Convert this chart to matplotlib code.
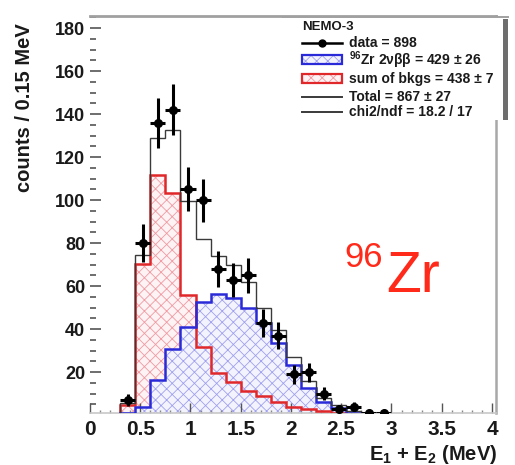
import numpy as np
import matplotlib
matplotlib.use("Agg")
import matplotlib.pyplot as plt
from matplotlib.patches import Rectangle
from matplotlib.ticker import MultipleLocator

plt.rcParams["font.family"] = ["Liberation Sans", "DejaVu Sans"]
plt.rcParams["font.weight"] = "bold"
plt.rcParams["mathtext.fontset"] = "custom"
plt.rcParams["mathtext.rm"] = "Liberation Sans:bold"
plt.rcParams["mathtext.bf"] = "Liberation Sans:bold"
plt.rcParams["mathtext.it"] = "Liberation Sans:bold:italic"
plt.rcParams["hatch.linewidth"] = 0.6

# ---- histogram data: 0.15 MeV bins of E1 + E2 ----
bin_edges = [0.30, 0.45, 0.60, 0.75, 0.90, 1.05, 1.20, 1.35, 1.50, 1.65,
             1.80, 1.95, 2.10, 2.25, 2.40, 2.55, 2.70, 2.85]
bkg_counts = [4.5, 70.5, 111.8, 103.3, 56.0, 31.9, 19.5, 15.6, 11.0, 8.7,
              6.3, 4.0, 3.0, 2.0, 1.2, 0.5, 0.2]
bb2nu_counts = [1.0, 4.0, 16.4, 30.8, 41.0, 52.8, 56.4, 54.6, 50.0, 43.0,
                33.6, 23.4, 12.5, 6.3, 3.4, 1.2, 0.4]
total_counts = [5.5, 74.5, 128.8, 132.6, 99.5, 82.0, 74.0, 70.0, 62.0, 50.0,
                39.5, 27.0, 16.0, 8.0, 4.5, 1.7, 0.6]

data_energy = [0.375, 0.525, 0.675, 0.825, 0.975, 1.125, 1.275, 1.425, 1.575,
               1.725, 1.875, 2.025, 2.175, 2.325, 2.475, 2.625, 2.775, 2.925]
data_counts = [7, 80, 136, 142, 105, 100, 68, 63, 65, 43, 37, 19, 20, 10,
               3, 4, 1, 1]

x_ticks = [0, 0.5, 1, 1.5, 2, 2.5, 3, 3.5, 4]
x_tick_labels = ["0", "0.5", "1", "1.5", "2", "2.5", "3", "3.5", "4"]
y_ticks = [20, 40, 60, 80, 100, 120, 140, 160, 180]

legend_title = "NEMO-3"
legend_labels = ["data = 898",
                 "$^{96}$Zr 2\u03bd\u03b2\u03b2 = 429 \u00b1 26",
                 "sum of bkgs = 438 \u00b1 7",
                 "Total = 867 \u00b1 27",
                 "chi2/ndf = 18.2 / 17"]

RED = "#e0282a"
BLUE = "#2a2ad8"
RED_FACE, RED_HATCH = "#fdf2f4", "#f09aa2"
BLUE_FACE, BLUE_HATCH = "#f3f3fd", "#a0a0f0"
TOTAL_COLOR = "#3a3a3a"

W, H = 515, 465
fig = plt.figure(figsize=(W / 100, H / 100), dpi=100)
ax = fig.add_axes([90 / W, 52 / H, 406 / W, 397 / H])

# hatched component fills (background first, then signal on top)
ax.stairs(bkg_counts, bin_edges, fill=True, facecolor=RED_FACE,
          edgecolor=RED_HATCH, hatch="xxx", linewidth=0, zorder=1)
ax.stairs(bb2nu_counts, bin_edges, fill=True, facecolor=BLUE_FACE,
          edgecolor=BLUE_HATCH, hatch="xxx", linewidth=0, zorder=1.1)

# outlines
ax.stairs(bkg_counts, bin_edges, color=RED, linewidth=1.8, zorder=3)
ax.stairs(bb2nu_counts, bin_edges, color=BLUE, linewidth=1.8, zorder=3.1)
ax.stairs(total_counts, bin_edges, color=TOTAL_COLOR, linewidth=1.0, zorder=3.2)

# data points with Poisson errors
ax.errorbar(data_energy, data_counts, yerr=np.sqrt(data_counts), xerr=0.075,
            fmt="o", color="black", markersize=5.5, elinewidth=2.2,
            capsize=0, zorder=5)

ax.set_xlim(0, 4.04)
ax.set_ylim(1, 185.6)
ax.set_xticks(x_ticks)
ax.set_xticklabels(x_tick_labels)
ax.set_yticks(y_ticks)
ax.xaxis.set_minor_locator(MultipleLocator(0.1))
ax.yaxis.set_minor_locator(MultipleLocator(5))

ax.tick_params(which="both", direction="in", top=False, right=False,
               color="#555555", labelcolor="#1a1a1a")
ax.tick_params(axis="x", which="major", length=7, width=1.0, pad=5,
               labelsize=15)
ax.tick_params(axis="x", which="minor", length=2.5, width=1.0,
               color="#888888")
ax.tick_params(axis="y", which="major", length=8, width=1.2, pad=3.5,
               labelsize=13)
ax.tick_params(axis="y", which="minor", length=4, width=1.2)

ax.spines["left"].set_visible(False)
ax.spines["top"].set_color("#a0a0a0")
ax.spines["top"].set_linewidth(2.0)
ax.spines["right"].set_color("#a8a8a8")
ax.spines["right"].set_linewidth(1.8)
ax.spines["bottom"].set_color("#c8c8c8")
ax.spines["bottom"].set_linewidth(1.2)

ax.set_ylabel("counts / 0.15 MeV", loc="top", fontsize=14.5,
              fontweight="bold", color="#1a1a1a")
ax.yaxis.set_label_coords((34 - 90) / 406, (413 - 23) / 397)
ax.set_xlabel("E$_{1}$ + E$_{2}$ (MeV)", loc="right", fontsize=14.5,
              fontweight="bold", color="#1a1a1a")
ax.xaxis.set_label_coords((497 - 90) / 406, (413 - 443) / 397)

# ---- overlay in pixel units for legend box and isotope label ----
ov = fig.add_axes([0, 0, 1, 1], zorder=10)
ov.set_xlim(0, W)
ov.set_ylim(H, 0)
ov.axis("off")
ov.patch.set_alpha(0)

ov.add_patch(Rectangle((283, 17), 220, 103, facecolor="white",
                       edgecolor="none", zorder=1))
ov.add_patch(Rectangle((503, 19), 5, 101, facecolor="#6e6e6e",
                       edgecolor="none", zorder=1))
ov.plot([283, 508], [17, 17], color="#a0a0a0", lw=1.4, zorder=2)

x0, x1, tx = 302, 342, 349
row_y = [43, 60, 79, 97, 112]
ov.text(302, 27, legend_title, fontsize=9.5, fontweight="bold",
        va="center", ha="left", color="#1a1a1a", zorder=3)
# data entry
ov.plot([x0, x1], [row_y[0]] * 2, color="black", lw=1.8, zorder=3)
ov.plot([(x0 + x1) / 2], [row_y[0]], "o", color="black", ms=5, zorder=3)
# hatched entries
for yy, face, hcol, ecol in [(row_y[1], BLUE_FACE, BLUE_HATCH, BLUE),
                             (row_y[2], RED_FACE, RED_HATCH, RED)]:
    ov.add_patch(Rectangle((x0, yy - 4.5), x1 - x0, 9, facecolor=face,
                           edgecolor=hcol, hatch="xxx", lw=0, zorder=3))
    ov.add_patch(Rectangle((x0, yy - 4.5), x1 - x0, 9, facecolor="none",
                           edgecolor=ecol, lw=1.6, zorder=4))
for yy in row_y[3:]:
    ov.plot([x0, x1], [yy, yy], color=TOTAL_COLOR, lw=1.4, zorder=3)
for yy, lab in zip(row_y, legend_labels):
    ov.text(tx, yy, lab, fontsize=10, fontweight="bold", va="center",
            ha="left", color="#1a1a1a", zorder=3)

ZR_RED = "#ff2a1a"
ov.text(386, 291.5, "Zr", fontsize=41, fontweight="normal", color=ZR_RED,
        ha="left", va="baseline")
ov.text(383, 266.5, "96", fontsize=25, fontweight="normal", color=ZR_RED,
        ha="right", va="baseline")

fig.savefig("out.png", dpi=100)
